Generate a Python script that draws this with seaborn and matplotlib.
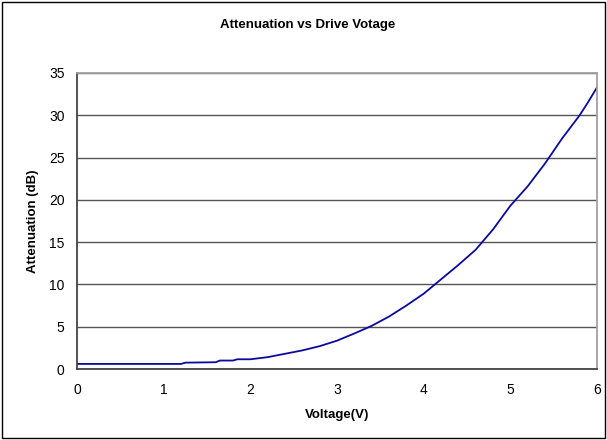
import numpy as np
import pandas as pd
import matplotlib
matplotlib.use("Agg")
import matplotlib.pyplot as plt
import seaborn as sns

# Values
voltage = [0.0, 0.5, 1.0, 1.2, 1.25, 1.6, 1.65, 1.8, 1.85, 2.0, 2.2, 2.4, 2.5, 2.6,
           2.8, 3.0, 3.2, 3.4, 3.6, 3.8, 4.0, 4.2, 4.4, 4.6, 4.7, 4.8, 5.0, 5.2,
           5.4, 5.6, 5.8, 5.9, 6.0]
attenuation = [0.6, 0.6, 0.6, 0.6, 0.75, 0.8, 1.0, 1.0, 1.15, 1.15, 1.4, 1.8, 2.0, 2.2,
               2.7, 3.35, 4.2, 5.1, 6.2, 7.5, 8.9, 10.6, 12.3, 14.1, 15.3, 16.5, 19.3, 21.6,
               24.3, 27.3, 30.0, 31.6, 33.3]
x_ticks = [0, 1, 2, 3, 4, 5, 6]
y_ticks = [0, 5, 10, 15, 20, 25, 30, 35]

df = pd.DataFrame({"Voltage(V)": voltage, "Attenuation (dB)": attenuation})

sns.set_style("white", {"text.color": "black", "axes.labelcolor": "black",
                        "xtick.color": "black", "ytick.color": "black"})
plt.rcParams['font.family'] = ['Liberation Sans', 'DejaVu Sans']

fig = plt.figure(figsize=(6.07, 4.40), dpi=100)
ax = fig.add_axes([77 / 607, 1 - 369 / 440, (597 - 77) / 607, (369 - 73) / 440])

# outer chart border
fig.patches.append(plt.Rectangle((2 / 607, 2 / 440), 603 / 607, 436 / 440,
                                 transform=fig.transFigure, fill=False,
                                 edgecolor='black', linewidth=1))

sns.lineplot(data=df, x="Voltage(V)", y="Attenuation (dB)", ax=ax,
             color='#0a0a9c', linewidth=1.3)

ax.set_xlim(0, 6)
ax.set_ylim(0, 35)
ax.set_xticks(x_ticks)
ax.set_yticks(y_ticks)
ax.yaxis.grid(True, color='#555555', linewidth=1)
ax.set_axisbelow(True)

for side in ['left', 'bottom']:
    ax.spines[side].set_color('#444444')
    ax.spines[side].set_linewidth(1.3)
for side in ['top', 'right']:
    ax.spines[side].set_color('#a0a0a0')
    ax.spines[side].set_linewidth(1.3)

ax.tick_params(axis='y', direction='out', length=4, width=1, color='#444444',
               labelcolor='black', labelsize=10, pad=5)
ax.tick_params(axis='x', direction='in', length=4, width=1, color='#222222',
               labelcolor='black', labelsize=10, pad=10)

ax.set_xlabel("Voltage(V)", fontsize=9.5, fontweight='bold', labelpad=9, color='black')
ax.set_ylabel("Attenuation (dB)", fontsize=9.5, fontweight='bold', labelpad=7, color='black')
fig.text(0.507, 1 - 25 / 440, "Attenuation vs Drive Votage", ha='center', va='center',
         fontsize=9.5, fontweight='bold', color='black')

fig.savefig("out.png", dpi=100)
